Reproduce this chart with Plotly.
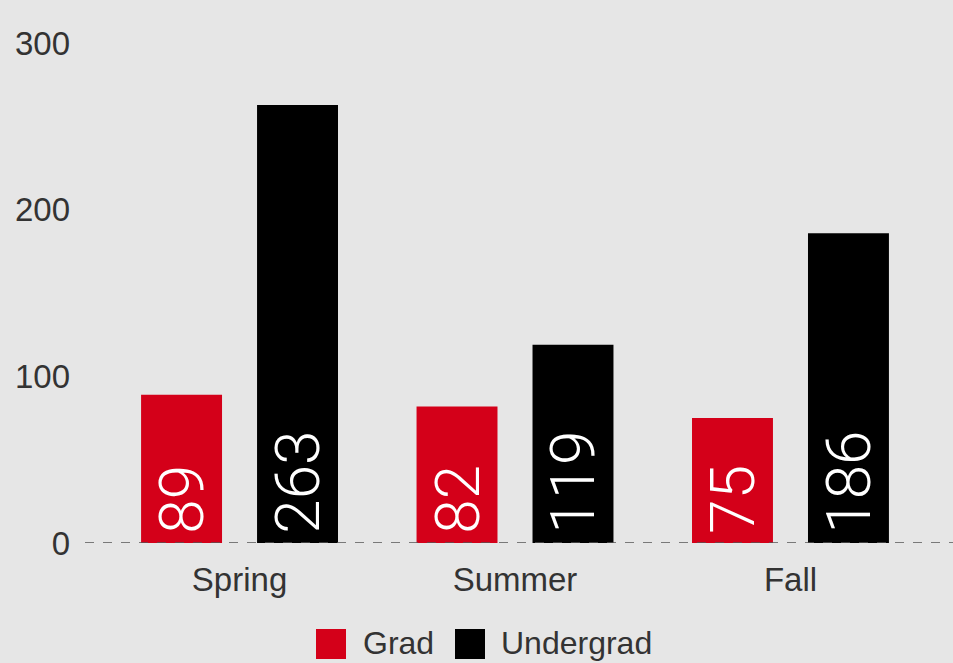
import plotly.graph_objects as go

categories = ["Spring", "Summer", "Fall"]
grad = [89, 82, 75]
undergrad = [263, 119, 186]
y_ticks = [0, 100, 200, 300]
series_names = ["Grad", "Undergrad"]

RED = "#d40019"
BLACK = "#000000"
BG = "#e6e6e6"
TEXT = "#333333"
AXIS_FONT = dict(family="Liberation Sans, Arial, sans-serif", size=33, color=TEXT)
VALUE_FONT = dict(family="Roboto, Open Sans, sans-serif", size=62, color="white", weight=300)

W, H = 953, 663
ML, MR, MT, MB = 85, 0, 10, 120


def px2x(px):
    return (px - ML) / (W - ML - MR)


def px2y(py):
    return (H - MB - py) / (H - MB - MT)


fig = go.Figure()
colors = [RED, BLACK]
for name, vals, col in zip(series_names, [grad, undergrad], colors):
    fig.add_trace(go.Bar(
        x=categories, y=vals, name=name, marker_color=col, marker_line_width=0,
        texttemplate="\u200a%{y}", textposition="inside", insidetextanchor="start",
        textangle=-90, textfont=VALUE_FONT, showlegend=False,
    ))

fig.add_shape(type="line", xref="paper", yref="y", x0=0, x1=1, y0=0, y1=0,
              line=dict(color="#555555", width=1.5, dash="dash"), layer="above")

# legend: swatch + label, centred row below the axis
legend_items = [(331, 362), (470, 500)]  # swatch centre px, label left px
for (sw, lx), name, col in zip(legend_items, series_names, colors):
    fig.add_shape(type="rect", xref="paper", yref="paper",
                  xsizemode="pixel", ysizemode="pixel",
                  xanchor=px2x(sw), yanchor=px2y(644), x0=-15, x1=15, y0=-15, y1=15,
                  fillcolor=col, line_width=0)
    fig.add_annotation(xref="paper", yref="paper", x=px2x(lx), y=px2y(643),
                       xanchor="left", yanchor="middle", text=name, showarrow=False,
                       borderpad=0,
                       font=dict(family="Liberation Sans, Arial, sans-serif", size=32, color=TEXT))

fig.update_layout(
    width=W, height=H,
    paper_bgcolor=BG, plot_bgcolor=BG,
    margin=dict(l=ML, r=MR, t=MT, b=MB),
    barmode="group", bargap=0.158, bargroupgap=0.302,
    font=AXIS_FONT, showlegend=False,
    xaxis=dict(range=[-0.561, 2.59], showgrid=False, zeroline=False, showline=False,
               ticks="", ticklabelstandoff=14, tickfont=AXIS_FONT),
    yaxis=dict(range=[0, 320], tickvals=y_ticks, showgrid=False, zeroline=False,
               showline=False, ticks="", ticklabelstandoff=14, tickfont=AXIS_FONT),
)

fig.write_html("out.html", config={"displayModeBar": False},
               post_script="document.body.style.margin='0';")
